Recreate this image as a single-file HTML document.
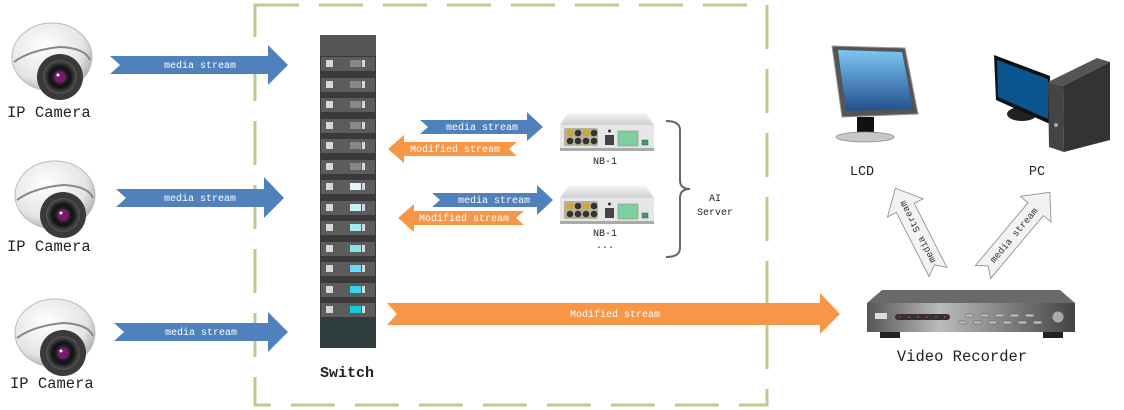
<!DOCTYPE html>
<html><head><meta charset="utf-8"><style>
html,body{margin:0;padding:0;background:#fff;}
svg{display:block;}
text{font-family:"Liberation Mono","DejaVu Sans Mono",monospace;}
</style></head><body>
<svg width="1124" height="410" viewBox="0 0 1124 410" xmlns="http://www.w3.org/2000/svg">
<defs>
<radialGradient id="dome" cx="0.4" cy="0.35" r="0.7"><stop offset="0" stop-color="#ffffff"/><stop offset="0.7" stop-color="#e4e4e4"/><stop offset="1" stop-color="#a8a8a8"/></radialGradient>
<radialGradient id="lens" cx="0.5" cy="0.5" r="0.5"><stop offset="0" stop-color="#444"/><stop offset="0.6" stop-color="#111"/><stop offset="1" stop-color="#555"/></radialGradient>
<linearGradient id="scr" x1="0" y1="0" x2="0" y2="1"><stop offset="0" stop-color="#7cc6f5"/><stop offset="1" stop-color="#234f8a"/></linearGradient>
<linearGradient id="rec" x1="0" y1="0" x2="1" y2="0"><stop offset="0" stop-color="#555"/><stop offset="0.35" stop-color="#bbb"/><stop offset="1" stop-color="#444"/></linearGradient>
<linearGradient id="nb" x1="0" y1="0" x2="0" y2="1"><stop offset="0" stop-color="#f4f4f4"/><stop offset="1" stop-color="#cfcfcf"/></linearGradient>
<g id="cam">
  <ellipse cx="52" cy="45" rx="40" ry="34" fill="url(#dome)" stroke="#bbb" stroke-width="1"/>
  <path d="M14 50 Q30 38 60 35 Q85 36 90 48" fill="none" stroke="#888" stroke-width="2"/>
  <circle cx="60" cy="65" r="23" fill="#3a3a3a"/>
  <circle cx="60" cy="65" r="17" fill="url(#lens)"/>
  <circle cx="60" cy="65" r="6" fill="#7a1a6e"/>
  <circle cx="58" cy="63" r="1.5" fill="#fff"/>
</g>
<g id="nbdev">
  <polygon points="8,0 86,0 94,12 0,12" fill="url(#nb)"/>
  <rect x="0" y="12" width="94" height="24" fill="#e6e6e6"/>
  <rect x="0" y="35" width="94" height="3" fill="#aaa"/>
  <rect x="4" y="15" width="34" height="18" rx="2" fill="#b5b19a"/>
  <circle cx="10" cy="20" r="3.3" fill="#d4a52a"/><circle cx="18" cy="20" r="3.3" fill="#333"/><circle cx="26" cy="20" r="3.3" fill="#d4a52a"/><circle cx="34" cy="20" r="3.3" fill="#333"/>
  <circle cx="10" cy="28" r="3.3" fill="#333"/><circle cx="18" cy="28" r="3.3" fill="#333"/><circle cx="26" cy="28" r="3.3" fill="#333"/><circle cx="34" cy="28" r="3.3" fill="#333"/>
  <rect x="45" y="22" width="9" height="10" fill="#444"/><circle cx="49.5" cy="18" r="1.5" fill="#333"/>
  <rect x="58" y="18" width="20" height="15" fill="#7dcf9e" stroke="#999" stroke-width="0.7"/>
  <rect x="82" y="27" width="6" height="5" fill="#3aa060" stroke="#555" stroke-width="0.5"/>
</g>
</defs>

<rect x="255" y="5" width="512" height="400" fill="none" stroke="#b8cc90" stroke-width="3" stroke-dasharray="44,20"/>

<use href="#cam" x="0" y="12"/>
<use href="#cam" x="3" y="150"/>
<use href="#cam" x="3" y="288"/>
<text x="7" y="117" font-size="15.5" fill="#222">IP Camera</text>
<text x="7" y="251" font-size="15.5" fill="#222">IP Camera</text>
<text x="10" y="388" font-size="15.5" fill="#222">IP Camera</text>

<polygon points="110,56 268,56 268,45 288,65 268,85 268,74 110,74 120,65" fill="#4f81bd"/>
<text x="200" y="68" font-size="10" fill="#fff" text-anchor="middle">media stream</text>
<polygon points="116,189 264,189 264,177 284,198 264,218 264,207 116,207 126,198" fill="#4f81bd"/>
<text x="200" y="201" font-size="10" fill="#fff" text-anchor="middle">media stream</text>
<polygon points="114,323 268,323 268,312 288,332 268,352 268,341 114,341 124,332" fill="#4f81bd"/>
<text x="201" y="335" font-size="10" fill="#fff" text-anchor="middle">media stream</text>

<rect x="320" y="35" width="56" height="313" fill="#3a3a3a"/>
<rect x="320" y="35" width="56" height="21" fill="#555"/>
<rect x="320" y="318" width="56" height="30" fill="#2f3d3f"/>
<g fill="#5c5c5c">
<rect x="321" y="57" width="54" height="14"/><rect x="321" y="78" width="54" height="14"/><rect x="321" y="98" width="54" height="14"/><rect x="321" y="119" width="54" height="14"/><rect x="321" y="139" width="54" height="14"/><rect x="321" y="160" width="54" height="14"/><rect x="321" y="180" width="54" height="14"/><rect x="321" y="201" width="54" height="14"/><rect x="321" y="221" width="54" height="14"/><rect x="321" y="242" width="54" height="14"/><rect x="321" y="262" width="54" height="14"/><rect x="321" y="283" width="54" height="14"/><rect x="321" y="303" width="54" height="14"/>
</g>
<g fill="#d8d8d8">
<rect x="326" y="60" width="7" height="7"/><rect x="326" y="81" width="7" height="7"/><rect x="326" y="101" width="7" height="7"/><rect x="326" y="122" width="7" height="7"/><rect x="326" y="142" width="7" height="7"/><rect x="326" y="163" width="7" height="7"/><rect x="326" y="183" width="7" height="7"/><rect x="326" y="204" width="7" height="7"/><rect x="326" y="224" width="7" height="7"/><rect x="326" y="245" width="7" height="7"/><rect x="326" y="265" width="7" height="7"/><rect x="326" y="286" width="7" height="7"/><rect x="326" y="306" width="7" height="7"/>
<rect x="362" y="60" width="3" height="7"/><rect x="362" y="81" width="3" height="7"/><rect x="362" y="101" width="3" height="7"/><rect x="362" y="122" width="3" height="7"/><rect x="362" y="142" width="3" height="7"/><rect x="362" y="163" width="3" height="7"/><rect x="362" y="183" width="3" height="7"/><rect x="362" y="204" width="3" height="7"/><rect x="362" y="224" width="3" height="7"/><rect x="362" y="245" width="3" height="7"/><rect x="362" y="265" width="3" height="7"/><rect x="362" y="286" width="3" height="7"/><rect x="362" y="306" width="3" height="7"/>
</g>
<g>
<rect x="350" y="60" width="11" height="7" fill="#888"/><rect x="350" y="81" width="11" height="7" fill="#888"/><rect x="350" y="101" width="11" height="7" fill="#888"/><rect x="350" y="122" width="11" height="7" fill="#888"/><rect x="350" y="142" width="11" height="7" fill="#888"/><rect x="350" y="163" width="11" height="7" fill="#888"/>
<rect x="350" y="183" width="11" height="7" fill="#dff7fb"/><rect x="350" y="204" width="11" height="7" fill="#c4f0f7"/><rect x="350" y="224" width="11" height="7" fill="#a8eaf4"/><rect x="350" y="245" width="11" height="7" fill="#86e3f0"/><rect x="350" y="265" width="11" height="7" fill="#62dcee"/><rect x="350" y="286" width="11" height="7" fill="#38d3ea"/><rect x="350" y="306" width="11" height="7" fill="#16cae4"/>
</g>
<text x="347" y="377" font-size="15" font-weight="bold" fill="#222" text-anchor="middle">Switch</text>

<polygon points="420,120 527,120 527,112 543,127 527,141 527,134 420,134 428,127" fill="#4f81bd"/>
<text x="482" y="130" font-size="10" fill="#fff" text-anchor="middle">media stream</text>
<polygon points="517,142 404,142 404,135 388,149 404,163 404,156 517,156 509,149" fill="#f79646"/>
<text x="455" y="152" font-size="10" fill="#fff" text-anchor="middle">Modified  stream</text>
<polygon points="432,193 537,193 537,185 553,200 537,215 537,207 432,207 440,200" fill="#4f81bd"/>
<text x="494" y="203" font-size="10" fill="#fff" text-anchor="middle">media stream</text>
<polygon points="524,211 414,211 414,204 398,218 414,232 414,225 524,225 516,218" fill="#f79646"/>
<text x="464" y="221" font-size="10" fill="#fff" text-anchor="middle">Modified  stream</text>

<polygon points="387,303 820,303 820,293 840,314 820,334 820,325 387,325 397,314" fill="#f79646"/>
<text x="615" y="317" font-size="10" fill="#fff" text-anchor="middle">Modified  stream</text>

<use href="#nbdev" x="560" y="113"/>
<use href="#nbdev" x="560" y="186"/>
<text x="605" y="164" font-size="10" fill="#222" text-anchor="middle">NB-1</text>
<text x="605" y="236" font-size="10" fill="#222" text-anchor="middle">NB-1</text>
<text x="605" y="248" font-size="10" fill="#222" text-anchor="middle">...</text>
<path d="M666 121 Q680 121 680 130 L680 180 Q680 189 690 189 Q680 189 680 198 L680 248 Q680 257 666 257" fill="none" stroke="#666" stroke-width="2"/>
<text x="715" y="201" font-size="10" fill="#222" text-anchor="middle">AI</text>
<text x="715" y="215" font-size="10" fill="#222" text-anchor="middle">Server</text>

<polygon points="832,46 905,48 918,114 842,117" fill="#555" stroke="#999" stroke-width="1"/>
<polygon points="838,50 902,52 913,109 846,111" fill="url(#scr)"/>
<rect x="857" y="117" width="17" height="17" fill="#111"/>
<ellipse cx="865" cy="137" rx="29" ry="5" fill="#c8c8c8" stroke="#888" stroke-width="0.8"/>
<text x="862" y="175" font-size="13.5" fill="#222" text-anchor="middle">LCD</text>

<ellipse cx="1022" cy="114" rx="15" ry="7" fill="#222"/>
<polygon points="994,55 1050,76 1050,124 996,100" fill="#111"/>
<polygon points="997,60 1048,79 1048,119 998,97" fill="#0a5590"/>
<polygon points="1048,82 1097,58 1110,62 1063,86" fill="#555"/>
<polygon points="1063,86 1110,62 1110,140 1064,152" fill="#333"/>
<polygon points="1048,82 1063,86 1064,152 1049,147" fill="#444"/>
<circle cx="1056" cy="125" r="2" fill="#aaa"/>
<text x="1037" y="175" font-size="13.5" fill="#222" text-anchor="middle">PC</text>

<g transform="translate(938,272) rotate(-117)">
<polygon points="0,-10 72,-10 72,-20 94,0 72,20 72,10 0,10 8,0" fill="#f2f2f2" stroke="#888" stroke-width="0.8"/>
<text x="45" y="3" font-size="9.5" fill="#333" text-anchor="middle">media Stream</text>
</g>
<g transform="translate(983,272) rotate(-50)">
<polygon points="0,-10 82,-10 82,-20 104,0 82,20 82,10 0,10 8,0" fill="#f2f2f2" stroke="#888" stroke-width="0.8"/>
<text x="48" y="3" font-size="9.5" fill="#333" text-anchor="middle">media stream</text>
</g>

<polygon points="882,290 1060,290 1075,303 867,303" fill="#6a6a6a"/>
<rect x="867" y="303" width="208" height="29" fill="url(#rec)"/>
<rect x="880" y="332" width="20" height="6" fill="#222"/><rect x="1043" y="332" width="20" height="6" fill="#222"/>
<rect x="875" y="313" width="12" height="6" fill="#ddd"/>
<rect x="895" y="314" width="55" height="6" rx="3" fill="#333"/>
<g fill="#e22"><circle cx="900" cy="317" r="1"/><circle cx="909" cy="317" r="1"/><circle cx="918" cy="317" r="1"/><circle cx="927" cy="317" r="1"/><circle cx="936" cy="317" r="1"/><circle cx="945" cy="317" r="1"/></g>
<g fill="#bbb" stroke="#555" stroke-width="0.5"><rect x="965" y="314" width="9" height="3" rx="1.5"/><rect x="980" y="314" width="9" height="3" rx="1.5"/><rect x="995" y="314" width="9" height="3" rx="1.5"/><rect x="1010" y="314" width="9" height="3" rx="1.5"/><rect x="1025" y="314" width="9" height="3" rx="1.5"/>
<rect x="958" y="321" width="9" height="3" rx="1.5"/><rect x="973" y="321" width="9" height="3" rx="1.5"/><rect x="988" y="321" width="9" height="3" rx="1.5"/><rect x="1003" y="321" width="9" height="3" rx="1.5"/><rect x="1018" y="321" width="9" height="3" rx="1.5"/><rect x="1033" y="321" width="9" height="3" rx="1.5"/></g>
<circle cx="1058" cy="317" r="6" fill="#aaa" stroke="#555" stroke-width="1"/>
<text x="962" y="361" font-size="15.5" fill="#222" text-anchor="middle">Video Recorder</text>
</svg>
</body></html>
